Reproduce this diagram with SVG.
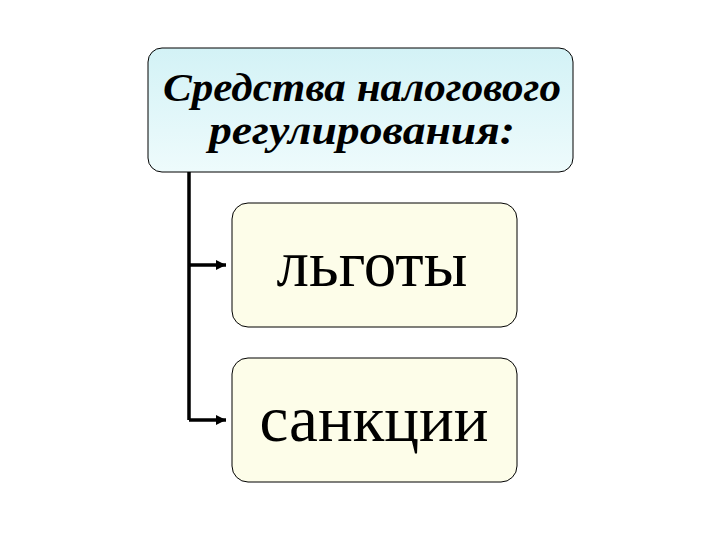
<svg xmlns="http://www.w3.org/2000/svg" width="720" height="540" viewBox="0 0 720 540">
<defs>
<linearGradient id="gTop" x1="0" y1="0" x2="0" y2="1">
<stop offset="0" stop-color="#d3f2f6"/>
<stop offset="1" stop-color="#eefbfc"/>
</linearGradient>
<marker id="arr" viewBox="0 0 10 10" refX="10" refY="5" markerWidth="3" markerHeight="3" orient="auto" markerUnits="strokeWidth">
<path d="M0,0 L10,5 L0,10 z" fill="#000"/>
</marker>
<style>
.box{stroke:#000;stroke-width:1}
.sub{fill:#fdfde9}
.t{font-family:"Liberation Serif","Times New Roman",serif;fill:#000;text-anchor:middle}
.ti{font-weight:bold;font-style:italic;font-size:39px}
.tb{font-size:65px}
.c{fill:none;stroke:#000;stroke-width:3.5}
</style>
</defs>
<rect width="720" height="540" fill="#fff"/>
<g id="connectors">
<path class="c" d="M189,172 V420 M189,265 H226" marker-end="url(#arr)"/>
<path class="c" d="M189,420 H226" marker-end="url(#arr)"/>
</g>
<g id="node-main">
<rect class="box" x="148" y="48" width="425" height="124" rx="14" fill="url(#gTop)"/>
<text class="t ti" x="362" y="101" textLength="398" lengthAdjust="spacingAndGlyphs">Средства налогового</text>
<text class="t ti" x="362" y="144" textLength="306" lengthAdjust="spacingAndGlyphs">регулирования:</text>
</g>
<g id="node-lgoty">
<rect class="box sub" x="232" y="203" width="285" height="124" rx="16"/>
<text class="t tb" x="372" y="286">льготы</text>
</g>
<g id="node-sanktsii">
<rect class="box sub" x="232" y="358" width="285" height="124" rx="16"/>
<text class="t tb" x="374" y="441">санкции</text>
</g>
</svg>
